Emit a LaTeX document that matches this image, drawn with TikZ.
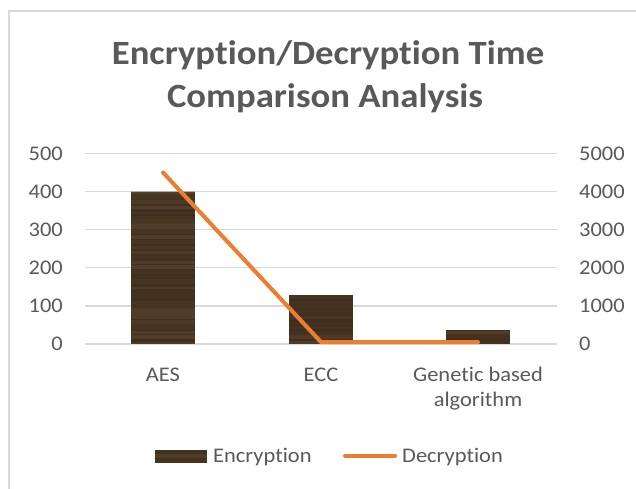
\documentclass[tikz,border=0pt]{standalone}
\usepackage{fontspec}
\setmainfont{Carlito}[RawFeature=-liga,FakeStretch=1.08]
\definecolor{txtgray}{HTML}{595959}
\definecolor{gridgray}{HTML}{D9D9D9}
\definecolor{lineorange}{HTML}{ED7D31}
\definecolor{woodbase}{HTML}{43321F}
\definecolor{woodlight}{HTML}{6A5540}
\definecolor{wooddark}{HTML}{33251A}
\newcommand\woodfill[4]{%
  \begin{scope}
    \clip (#1,#3) rectangle (#2,#4);
    \fill[woodbase] (#1,#3) rectangle (#2,#4);
    \pgfmathsetseed{#2}
    \foreach \k in {0,...,60}{%
      \pgfmathsetmacro\op{0.4*rnd}
      \pgfmathsetmacro\hh{2+4*rnd}
      \pgfmathsetmacro\od{0.35*rnd}
      \fill[woodlight,opacity=\op] (#1,#4-\k*5) rectangle (#2,#4-\k*5-\hh);
      \fill[wooddark,opacity=\od] (#1,#4-\k*5-\hh) rectangle (#2,#4-\k*5-5);
    }
  \end{scope}}
\tikzset{
  lab/.style={inner sep=0pt,text=txtgray,font=\fontsize{20.8}{24.5}\selectfont},
  ttl/.style={inner sep=0pt,text=txtgray,font=\fontsize{34}{43}\selectfont\bfseries},
  grid line/.style={draw=gridgray,line width=1.2pt},
  series line/.style={draw=lineorange,line width=4pt,line cap=round,line join=round}
}
\begin{document}
\begin{tikzpicture}[x=1pt,y=-1pt]
\useasboundingbox (0,0) rectangle (636,489);
\fill[white] (0,0) rectangle (636,489);
% chart border
\draw[gridgray,line width=1.3pt] (9,500) -- (9,11) -- (650,11);
% title
\node[ttl,anchor=base] (t1) at (328,65) {Encryption/Decryption Time};
\node[ttl,anchor=base] (t2) at (325,108) {Comparison Analysis};
% gridlines and axis labels
\foreach \i/\yy in {0/344,1/305.9,2/267.8,3/229.7,4/191.6,5/153.5}{
  \draw[grid line] (85,\yy) -- (557,\yy);
  \pgfmathtruncatemacro\lv{\i*100}
  \pgfmathtruncatemacro\rv{\i*1000}
  \node[lab,anchor=east] (l\i) at (63,\yy) {\lv};
  \node[lab,anchor=west] (r\i) at (579,\yy) {\rv};
}
% bars (Encryption)
\woodfill{131}{195}{191.6}{344}
\woodfill{289}{353}{295.2}{344}
\woodfill{446}{510}{330}{344}
% line (Decryption)
\coordinate (pA) at (163,172.5);
\coordinate (pE) at (321,342.1);
\coordinate (pG) at (478,342.1);
\draw[series line] (pA) -- (pE) -- (pG);
% category labels
\node[lab,anchor=base] (cA) at (163,381.7) {AES};
\node[lab,anchor=base] (cE) at (321,381.7) {ECC};
\node[lab,anchor=base] (cG1) at (478,381.7) {Genetic based};
\node[lab,anchor=base] (cG2) at (478,406.2) {algorithm};
% legend
\woodfill{155}{207}{450}{462.7}
\node[lab,anchor=base west] (le) at (213,462.5) {Encryption};
\coordinate (ld1) at (345,455.7);
\coordinate (ld2) at (395,455.7);
\draw[series line] (ld1) -- (ld2);
\node[lab,anchor=base west] (ld) at (402,462.5) {Decryption};
\end{tikzpicture}
\end{document}
